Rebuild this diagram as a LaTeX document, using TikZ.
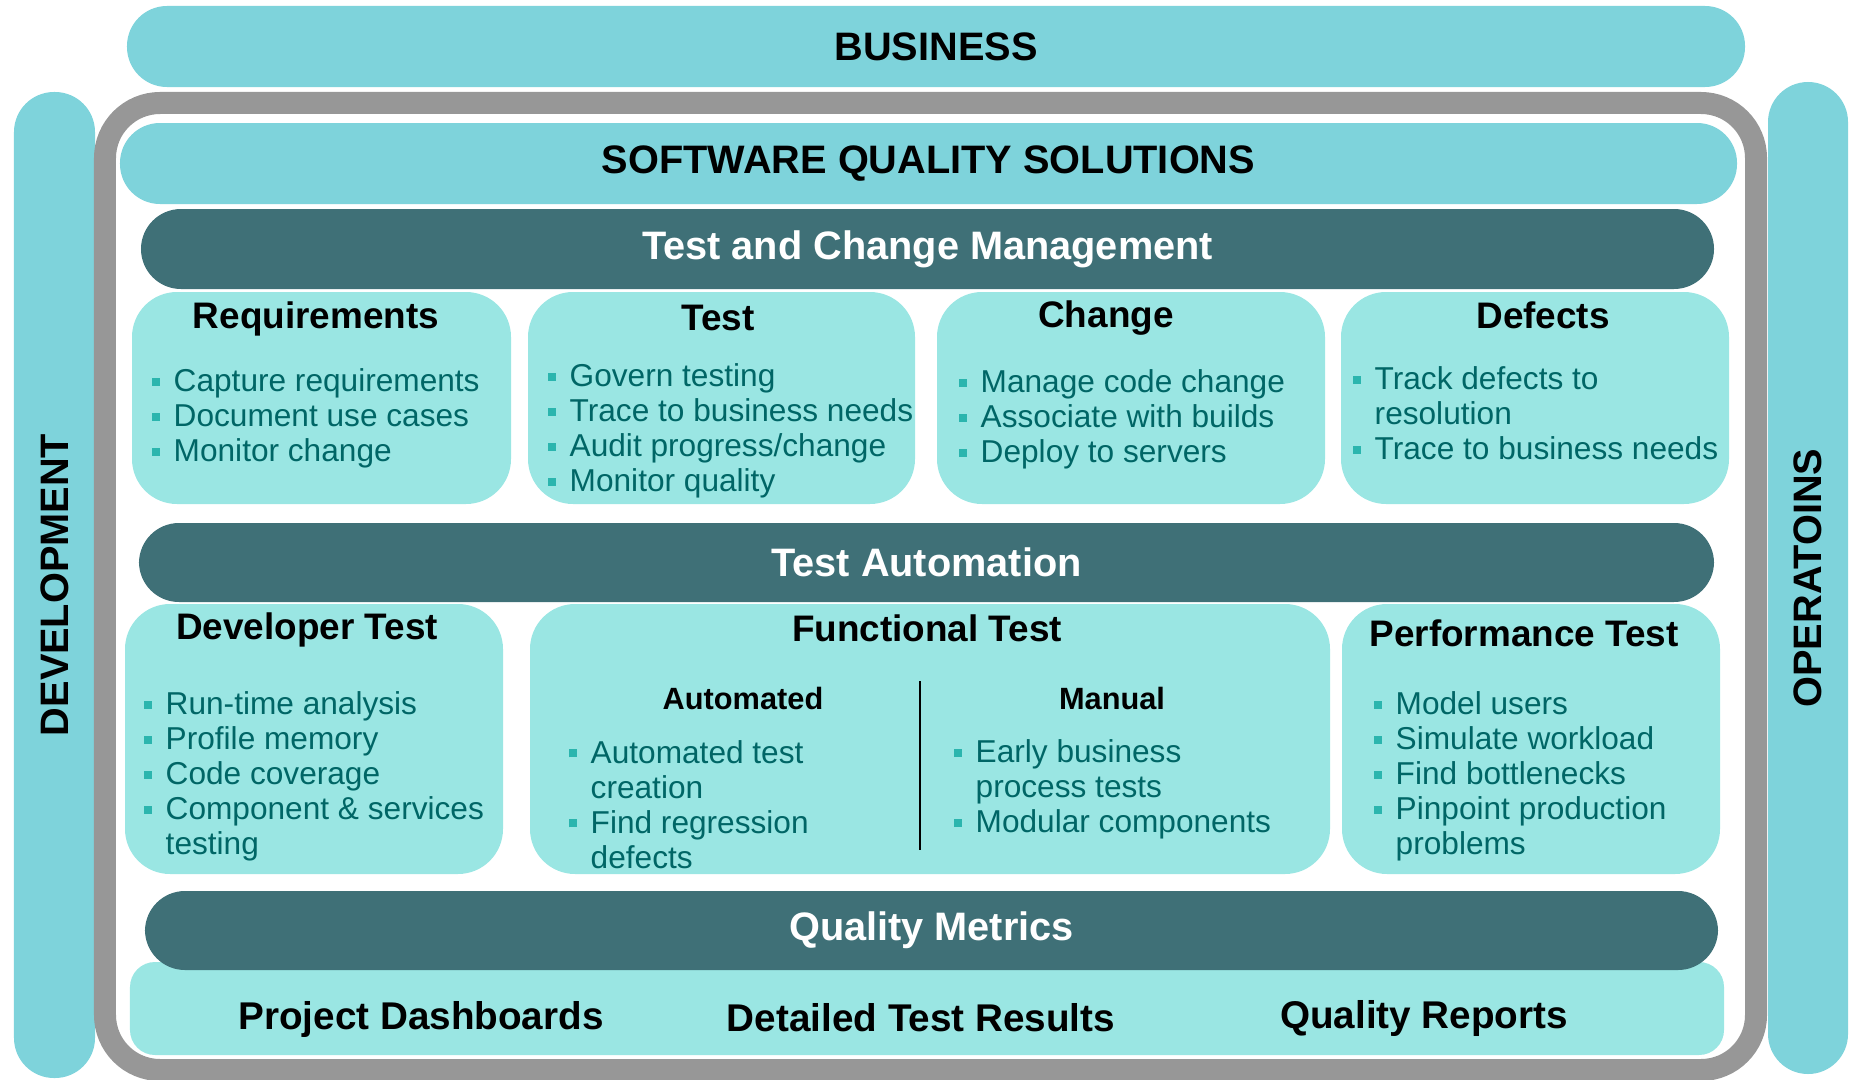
\documentclass[tikz,border=0pt]{standalone}
\usepackage{fontspec}
\setmainfont{Liberation Sans}
\usepackage{xcolor}
\definecolor{barcyan}{RGB}{126,211,219}
\definecolor{boxcyan}{RGB}{154,230,227}
\definecolor{darkteal}{RGB}{63,112,119}
\definecolor{framegray}{RGB}{151,151,151}
\definecolor{bulteal}{RGB}{43,181,174}
\definecolor{txtteal}{RGB}{0,102,102}

\newcommand{\bul}{\makebox[6.26pt][l]{\textcolor{bulteal}{\rule[1.7pt]{2.3pt}{2.3pt}}}}
\newcommand{\hang}{\hspace*{6.26pt}}

\tikzset{
  layerbar/.style={rectangle, rounded corners=4mm, fill=barcyan, inner sep=0pt,
    minimum height=8.1mm, font=\fontsize{11.3}{13}\selectfont\bfseries},
  darkbar/.style={layerbar, fill=darkteal, text=white, minimum height=7.9mm},
  panel/.style={rectangle, rounded corners=4.5mm, fill=boxcyan, inner sep=0pt},
  panelhead/.style={inner sep=0pt, font=\fontsize{10.5}{12}\selectfont\bfseries},
  subhead/.style={inner sep=0pt, font=\fontsize{8.75}{10}\selectfont\bfseries},
  itemlist/.style={anchor=west, align=left, inner sep=0pt, text=txtteal,
    font=\fontsize{9}{9.96}\selectfont},
  footlabel/.style={inner sep=0pt, font=\fontsize{11}{13}\selectfont\bfseries}
}

\begin{document}
\begin{tikzpicture}[x=1mm, y=-1mm]
    \useasboundingbox (0,0) rectangle (185.1,108);

    % Outer layers
    \node[layerbar, minimum width=161.8mm] (business) at (93.6,4.65) {BUSINESS};
    \node[layerbar, minimum width=98.6mm, minimum height=8.1mm, rotate=90] (dev) at (5.45,58.5) {DEVELOPMENT};
    \node[layerbar, minimum width=99.2mm, minimum height=8.0mm, rotate=90] (ops) at (180.8,57.8) {OPERATOINS};
    \node[draw=framegray, line width=2.2mm, rounded corners=5.5mm, minimum width=165.1mm, minimum height=96.7mm] (frame) at (93.05,58.65) {};

    % Solutions
    \node[layerbar, minimum width=161.7mm] (sqs) at (92.85,16.35) {SOFTWARE QUALITY SOLUTIONS};

    % Test and Change Management
    \node[darkbar, minimum width=157.3mm, minimum height=8.0mm] (tcm) at (92.75,24.9) {Test and Change Management};
    \node[panel, minimum width=37.9mm, minimum height=21.2mm] (req) at (32.15,39.8) {};
    \node[panel, minimum width=38.7mm, minimum height=21.2mm] (test) at (72.15,39.8) {};
    \node[panel, minimum width=38.8mm, minimum height=21.2mm] (change) at (113.1,39.8) {};
    \node[panel, minimum width=38.8mm, minimum height=21.2mm] (defects) at (153.5,39.8) {};

    \node[panelhead] (reqhead) at (31.6,31.9) {Requirements};
    \node[panelhead] (testhead) at (71.8,31.8) {Test};
    \node[panelhead] (changehead) at (110.6,31.8) {Change};
    \node[panelhead] (defectshead) at (154.3,31.5) {Defects};

    \node[itemlist] (reqlist) at (15.1,41.85) {\bul Capture requirements\\ \bul Document use cases\\ \bul Monitor change};
    \node[itemlist] (testlist) at (54.7,43.1) {\bul Govern testing\\ \bul Trace to business needs\\ \bul Audit progress/change\\ \bul Monitor quality};
    \node[itemlist] (changelist) at (95.8,41.95) {\bul Manage code change\\ \bul Associate with builds\\ \bul Deploy to servers};
    \node[itemlist] (defectslist) at (135.2,41.35) {\bul Track defects to\\ \hang resolution\\ \bul Trace to business needs};

    % Test Automation
    \node[darkbar, minimum width=157.5mm] (auto) at (92.65,56.25) {Test Automation};
    \node[panel, minimum width=37.8mm, minimum height=27.0mm] (devtest) at (31.4,73.9) {};
    \node[panel, minimum width=80.0mm, minimum height=27.0mm] (functest) at (93.0,73.9) {};
    \node[panel, minimum width=37.8mm, minimum height=27.0mm] (perftest) at (153.1,73.9) {};

    \node[panelhead] (devhead) at (30.7,63.0) {Developer Test};
    \node[panelhead] (funchead) at (92.7,62.8) {Functional Test};
    \node[panelhead] (perfhead) at (152.4,63.3) {Performance Test};
    \node[subhead] (autohead) at (74.3,69.8) {Automated};
    \node[subhead] (manhead) at (111.2,69.8) {Manual};
    \draw[line width=0.7pt] (92.0,68.1) -- (92.0,85.0);

    \node[itemlist] (devlist) at (14.3,77.65) {\bul Run-time analysis\\ \bul Profile memory\\ \bul Code coverage\\ \bul Component \& services\\ \hang testing};
    \node[itemlist] (autolist) at (56.8,80.45) {\bul Automated test\\ \hang creation\\ \bul Find regression\\ \hang defects};
    \node[itemlist] (manlist) at (95.3,78.95) {\bul Early business\\ \hang process tests\\ \bul Modular components};
    \node[itemlist] (perflist) at (137.3,77.65) {\bul Model users\\ \bul Simulate workload\\ \bul Find bottlenecks\\ \bul Pinpoint production\\ \hang problems};

    % Quality Metrics
    \node[panel, rounded corners=2.5mm, minimum width=159.4mm, minimum height=9.3mm] (reports) at (92.7,100.85) {};
    \node[darkbar, minimum width=157.3mm] (metrics) at (93.15,93.05) {Quality Metrics};
    \node[footlabel] (dash) at (42.1,101.9) {Project Dashboards};
    \node[footlabel] (results) at (92.1,101.8) {Detailed Test Results};
    \node[footlabel] (qreports) at (142.4,101.8) {Quality Reports};
\end{tikzpicture}
\end{document}
